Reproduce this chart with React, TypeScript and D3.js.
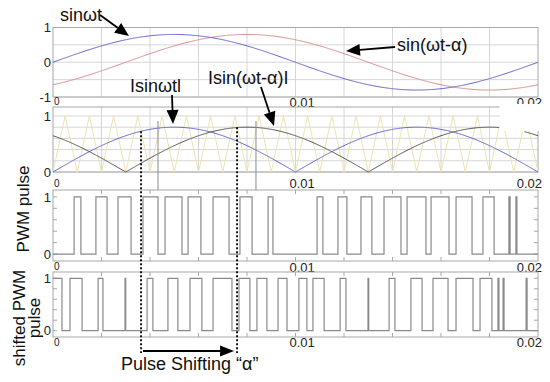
import React, { useEffect, useRef } from "react";
import * as d3 from "d3";

// time axis, seconds
const xTickValues = [0, 0.01, 0.02];
const xTickLabels = ["0", "0.01", "0.02"];
const gridTimes = d3.range(0.002, 0.0199, 0.002);

// reference waves
const amplitude = 0.8;
const freq = 50; // Hz
const alpha = 0.3 * Math.PI; // phase shift of the second wave
const carrierPeriod = 0.001; // triangle carrier, s

// PWM high intervals, ms
const pwmPulses = [
  [0.87, 1.15], [1.77, 2.23], [2.68, 3.22], [3.71, 4.33], [4.62, 5.32],
  [5.57, 6.1], [6.6, 7.26], [7.71, 8.21], [8.87, 9.07], [10.89, 11.13],
  [11.75, 12.12], [12.7, 13.15], [13.65, 14.35], [14.6, 15.38], [15.59, 16.33],
  [16.62, 17.28], [17.73, 18.19], [18.8, 18.85], [19.09, 19.13],
];

// shifted PWM high intervals, ms
const shiftedPulses = [
  [0, 0.37], [0.7, 1.2], [1.86, 2.06], [2.97, 3.0], [3.88, 4.12],
  [4.74, 5.15], [5.65, 6.14], [6.6, 7.38], [7.67, 8.12], [8.41, 8.82],
  [9.28, 9.65], [10.14, 10.47], [10.72, 11.18], [11.84, 12.08], [12.99, 13.02],
  [13.86, 14.1], [14.76, 15.22], [15.67, 16.29], [16.62, 17.32], [17.61, 18.1],
  [18.35, 18.39], [18.56, 18.6], [19.51, 19.55],
];

// gap in the |sin(wt-a)| trace, ms
const gapStart = 18.41;
const gapEnd = 19.44;

// dotted markers and stray vertical lines, ms
const dashedTimes = [3.63, 7.59];
const markerTimes = [4.33, 8.37];

const FONT = "Liberation Sans, Arial, Helvetica, sans-serif";

const App = () => {
  const ref = useRef<SVGSVGElement>(null);

  useEffect(() => {
    const svg = d3.select(ref.current);
    svg.selectAll("*").remove();

    const x = d3.scaleLinear().domain([0, 0.02]).range([53, 538]);

    const panels = [
      { y: d3.scaleLinear().domain([-1, 1]).range([97, 27.5]), yTicks: [1, 0, -1], hGrid: [-1, -0.5, 0, 0.5, 1], grid: true, labelBase: 107, zeroBase: 105 },
      { y: d3.scaleLinear().domain([0, 1.16]).range([172, 107]), yTicks: [1, 0], hGrid: [0, 0.2, 0.4, 0.6, 0.8, 1], grid: true, labelBase: 188, zeroBase: 187 },
      { y: d3.scaleLinear().domain([-0.12, 1.12]).range([261, 190]), yTicks: [1, 0], hGrid: [0, 0.2, 0.4, 0.6, 0.8, 1], grid: false, labelBase: 272, zeroBase: 270 },
      { y: d3.scaleLinear().domain([-0.12, 1.12]).range([337, 272]), yTicks: [1, 0], hGrid: [0, 0.2, 0.4, 0.6, 0.8, 1], grid: false, labelBase: 347, zeroBase: 346 },
    ];

    svg.append("rect").attr("width", 550).attr("height", 382).attr("fill", "#fff");

    // axes boxes, grids, ticks
    panels.forEach((p) => {
      const [y0, y1] = p.y.range();
      const g = svg.append("g");
      if (p.grid) {
        g.selectAll(".vg").data(gridTimes).enter().append("line")
          .attr("x1", (d) => x(d)).attr("x2", (d) => x(d))
          .attr("y1", y1).attr("y2", y0)
          .attr("stroke", "#d6d6d6").attr("stroke-width", 1);
        g.selectAll(".hg").data(p.hGrid).enter().append("line")
          .attr("x1", x(0)).attr("x2", x(0.02))
          .attr("y1", (d) => p.y(d)).attr("y2", (d) => p.y(d))
          .attr("stroke", "#d6d6d6").attr("stroke-width", 1);
      } else {
        // inside tick marks
        p.hGrid.forEach((v) => {
          g.append("line").attr("x1", x(0)).attr("x2", x(0) + 4)
            .attr("y1", p.y(v)).attr("y2", p.y(v)).attr("stroke", "#a8a8a8");
          g.append("line").attr("x1", x(0.02)).attr("x2", x(0.02) - 4)
            .attr("y1", p.y(v)).attr("y2", p.y(v)).attr("stroke", "#a8a8a8");
        });
        gridTimes.forEach((t) => {
          g.append("line").attr("x1", x(t)).attr("x2", x(t))
            .attr("y1", y1).attr("y2", y1 + 4).attr("stroke", "#a8a8a8");
          g.append("line").attr("x1", x(t)).attr("x2", x(t))
            .attr("y1", y0).attr("y2", y0 - 4).attr("stroke", "#a8a8a8");
        });
      }
      g.append("rect")
        .attr("x", x(0)).attr("y", y1)
        .attr("width", x(0.02) - x(0)).attr("height", y0 - y1)
        .attr("fill", "none").attr("stroke", "#a8a8a8").attr("stroke-width", 1);

      // y tick labels
      g.selectAll(".yl").data(p.yTicks).enter().append("text")
        .attr("x", 51).attr("y", (d) => p.y(d)).attr("dy", "0.36em")
        .attr("text-anchor", "end")
        .style("font-family", FONT).style("font-size", "13px").attr("fill", "#222")
        .text((d) => String(d));

      // x tick labels
      xTickValues.forEach((t, i) => {
        const anchor = i === 2 ? "end" : "start";
        const xp = i === 0 ? x(t) + 1 : i === 1 ? x(t) - 6 : x(t) + 4;
        g.append("text")
          .attr("x", xp).attr("y", i === 0 ? p.zeroBase : p.labelBase)
          .attr("text-anchor", anchor)
          .style("font-family", FONT).style("font-size", i === 0 ? "10px" : "13px")
          .attr("fill", "#222")
          .text(xTickLabels[i]);
      });
    });

    const ts = d3.range(0, 0.02 + 1e-9, 0.00004);
    const w = 2 * Math.PI * freq;

    // panel 1: sine waves
    const p1 = panels[0];
    svg.append("path").datum(ts)
      .attr("d", d3.line<number>().x((t) => x(t)).y((t) => p1.y(amplitude * Math.sin(w * t - alpha))))
      .attr("fill", "none").attr("stroke", "#dc8c8c").attr("stroke-width", 1);
    svg.append("path").datum(ts)
      .attr("d", d3.line<number>().x((t) => x(t)).y((t) => p1.y(amplitude * Math.sin(w * t))))
      .attr("fill", "none").attr("stroke", "#6565cc").attr("stroke-width", 1);

    // panel 2: rectified waves and carrier
    const p2 = panels[1];
    const carrier = d3.range(0, Math.round(0.02 / (carrierPeriod / 2)) + 1)
      .map((k) => [k * carrierPeriod / 2, k % 2] as [number, number]);
    svg.append("path").datum(carrier)
      .attr("d", d3.line<[number, number]>().x((d) => x(d[0])).y((d) => p2.y(d[1])))
      .attr("fill", "none").attr("stroke", "#ede4b4").attr("stroke-width", 1);
    svg.append("path").datum(ts)
      .attr("d", d3.line<number>().x((t) => x(t)).y((t) => p2.y(Math.abs(amplitude * Math.sin(w * t)))))
      .attr("fill", "none").attr("stroke", "#6565cc").attr("stroke-width", 1);
    const absShift = d3.line<number>().x((t) => x(t))
      .y((t) => p2.y(Math.abs(amplitude * Math.sin(w * t - alpha))));
    svg.append("path").datum(ts.filter((t) => t <= gapStart / 1000))
      .attr("d", absShift)
      .attr("fill", "none").attr("stroke", "#555").attr("stroke-width", 1);
    // erased patch in the top right corner
    svg.append("rect")
      .attr("x", x(gapStart / 1000)).attr("y", 104)
      .attr("width", 545 - x(gapStart / 1000)).attr("height", 27)
      .attr("fill", "#fff");
    svg.append("path").datum(ts.filter((t) => t >= gapEnd / 1000))
      .attr("d", absShift)
      .attr("fill", "none").attr("stroke", "#555").attr("stroke-width", 1);

    // stray vertical lines
    markerTimes.forEach((m) => {
      svg.append("line")
        .attr("x1", x(m / 1000)).attr("x2", x(m / 1000))
        .attr("y1", 121).attr("y2", 190)
        .attr("stroke", "#8a8a8a").attr("stroke-width", 1);
    });

    // panels 3, 4: pulse trains
    const pulsePoints = (pulses: number[][]) => {
      const pts: [number, number][] = [];
      const first = pulses[0][0] === 0;
      pts.push([0, first ? 1 : 0]);
      pulses.forEach(([r, f], i) => {
        const rs = r / 1000, fs = f / 1000;
        if (!(i === 0 && first)) {
          pts.push([rs, 0], [rs, 1]);
        }
        pts.push([fs, 1], [fs, 0]);
      });
      pts.push([0.02, 0]);
      return pts;
    };
    [
      { p: panels[2], pulses: pwmPulses },
      { p: panels[3], pulses: shiftedPulses },
    ].forEach(({ p, pulses }) => {
      svg.append("path").datum(pulsePoints(pulses))
        .attr("d", d3.line<[number, number]>().x((d) => x(d[0])).y((d) => p.y(d[1])))
        .attr("fill", "none").attr("stroke", "#8a8a8a").attr("stroke-width", 1.2);
    });

    // dotted markers
    const dashTop = [
      p2.y(Math.abs(amplitude * Math.sin((w * dashedTimes[0]) / 1000))),
      p2.y(amplitude),
    ];
    dashedTimes.forEach((m, i) => {
      svg.append("line")
        .attr("x1", x(m / 1000)).attr("x2", x(m / 1000))
        .attr("y1", dashTop[i]).attr("y2", 353)
        .attr("stroke", "#000").attr("stroke-width", 1.8)
        .attr("stroke-dasharray", "2,2");
    });

    // arrows
    const arrow = (x1: number, y1: number, x2: number, y2: number, len = 14, half = 6) => {
      const a = Math.atan2(y2 - y1, x2 - x1);
      const bx = x2 - len * Math.cos(a), by = y2 - len * Math.sin(a);
      svg.append("line").attr("x1", x1).attr("y1", y1).attr("x2", bx).attr("y2", by)
        .attr("stroke", "#000").attr("stroke-width", 1.8);
      const px = -Math.sin(a) * half, py = Math.cos(a) * half;
      svg.append("path")
        .attr("d", `M${x2},${y2}L${bx + px},${by + py}L${bx - px},${by - py}Z`)
        .attr("fill", "#000");
    };
    arrow(100, 15, 129, 36);
    arrow(395, 47, 346, 51);
    arrow(172, 95, 173, 124);
    arrow(261, 87, 274, 126);
    arrow(x(dashedTimes[0] / 1000) + 2, 351, x(dashedTimes[1] / 1000) - 3, 351, 14, 5.5);

    // annotation text
    const ann = [
      { t: "sin\u03c9t", x: 60, y: 21 },
      { t: "sin(\u03c9t-\u03b1)", x: 397, y: 51 },
      { t: "Isin\u03c9tl", x: 130, y: 92 },
      { t: "Isin(\u03c9t-\u03b1)I", x: 208, y: 84 },
      { t: "Pulse Shifting \u201c\u03b1\u201d", x: 121, y: 370 },
    ];
    ann.forEach((a) => {
      svg.append("text").attr("x", a.x).attr("y", a.y)
        .style("font-family", FONT).style("font-size", "18px").attr("fill", "#111")
        .text(a.t);
    });

    // y axis titles
    const yTitles = [
      { t: "PWM pulse", x: 29, y: 209 },
      { t: "shifted PWM", x: 25, y: 318 },
      { t: "pulse", x: 40, y: 318 },
    ];
    yTitles.forEach((a) => {
      svg.append("text")
        .attr("transform", `translate(${a.x},${a.y}) rotate(-90)`)
        .attr("text-anchor", "middle")
        .style("font-family", FONT).style("font-size", "17px").attr("fill", "#111")
        .text(a.t);
    });
  }, []);

  return (
    <svg
      ref={ref}
      width={550}
      height={382}
      style={{ position: "absolute", left: 0, top: 0 }}
    />
  );
};

export default App;
